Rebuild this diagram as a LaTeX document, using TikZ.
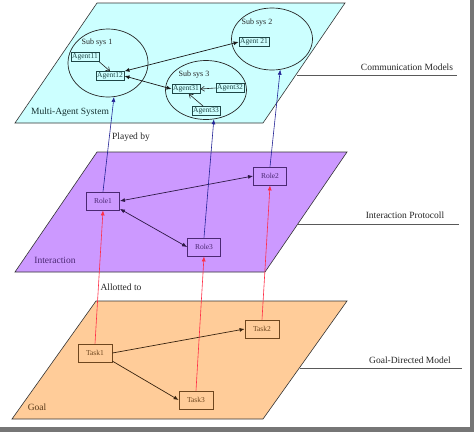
\documentclass[tikz,border=0pt]{standalone}
\usepackage{fontspec}
\setmainfont{Liberation Serif}
\usetikzlibrary{arrows.meta,shapes.geometric}
\definecolor{cyanp}{RGB}{204,255,255}
\definecolor{purp}{RGB}{204,153,255}
\definecolor{orap}{RGB}{255,204,153}
\definecolor{agentc}{RGB}{30,70,70}
\definecolor{rolec}{RGB}{75,40,115}
\definecolor{taskc}{RGB}{110,70,30}
\definecolor{navyl}{RGB}{35,35,150}
\definecolor{redl}{RGB}{255,45,70}
\definecolor{shadowc}{RGB}{118,118,118}
\begin{document}
\begin{tikzpicture}[x=1pt,y=-1pt,
  plane/.style={draw=black!80, line width=0.6pt},
  agent/.style={draw=agentc, text=agentc, line width=0.7pt, font=\fontsize{7.5}{8}\selectfont, inner xsep=1.2pt, inner ysep=1pt, minimum height=9pt},
  rolebox/.style={draw=rolec, text=rolec, line width=0.8pt, font=\fontsize{7.5}{8}\selectfont, minimum width=33pt, minimum height=18pt, inner sep=0pt},
  taskbox/.style={draw=taskc, text=taskc, line width=0.8pt, font=\fontsize{7.5}{8}\selectfont, minimum width=34pt, minimum height=18pt, inner sep=0pt},
  subsys/.style={draw=black!85, ellipse, line width=0.7pt, inner sep=0pt},
  sublabel/.style={font=\fontsize{8}{9}\selectfont, text=black!85, inner sep=0pt},
  planelabel/.style={font=\fontsize{9.5}{11}\selectfont, inner sep=0pt},
  sidelabel/.style={font=\fontsize{9.5}{11}\selectfont, text=black!85, inner sep=0pt},
  sideline/.style={draw=black!65, line width=0.8pt},
  biarrow/.style={line width=0.7pt, {Latex[length=5pt,width=4pt]}-{Latex[length=5pt,width=4pt]}},
  onearrow/.style={line width=0.7pt, -{Latex[length=5pt,width=4pt]}},
  openarrow/.style={line width=0.6pt, -{Straight Barb[length=3.5pt,width=5pt]}},
  bluearrow/.style={draw=navyl, line width=0.6pt, -{Latex[length=5pt,width=4pt]}},
  redarrow/.style={draw=redl, line width=0.6pt, -{Latex[length=5pt,width=4pt]}}
]
\useasboundingbox (0,0) rectangle (474,432);
\fill[white] (0,0) rectangle (474,432);
\fill[shadowc] (470,0) rectangle (474,432);
\fill[shadowc] (0,427) rectangle (474,432);

% planes
\path[plane, fill=cyanp] (97,3) -- (345,3) -- (263,123) -- (15,123) -- cycle;
\path[plane, fill=purp] (97,152) -- (347,152) -- (265,272) -- (15,272) -- cycle;
\path[plane, fill=orap] (96,301) -- (347,301) -- (263,419) -- (12,419) -- cycle;

% side labels
\coordinate (cmL) at (297,75); \coordinate (cmR) at (457,75);
\draw[sideline] (cmL) -- (cmR);
\node[sidelabel] (cmT) at (407,67) {Communication Models};
\coordinate (ipL) at (298,224); \coordinate (ipR) at (459,224);
\draw[sideline] (ipL) -- (ipR);
\node[sidelabel] (ipT) at (405,215) {Interaction Protocoll};
\coordinate (gdL) at (300,368); \coordinate (gdR) at (462,368);
\draw[sideline] (gdL) -- (gdR);
\node[sidelabel] (gdT) at (410,360) {Goal-Directed Model};

% plane labels
\node[planelabel, text=agentc!70!black] (mas) at (70,112) {Multi-Agent System};
\node[planelabel, text=rolec] (inter) at (55,260) {Interaction};
\node[planelabel, text=taskc!80!black] (goal) at (37,407) {Goal};

% sub systems
\node[subsys, minimum width=80pt, minimum height=68pt] (ss1) at (108,63) {};
\node[subsys, minimum width=81pt, minimum height=62pt] (ss2) at (272,39) {};
\node[subsys, minimum width=81pt, minimum height=59pt] (ss3) at (206,90) {};
\node[sublabel] (ss1l) at (97,43) {Sub sys 1};
\node[sublabel] (ss2l) at (257,23) {Sub sys 2};
\node[sublabel] (ss3l) at (194,75) {Sub sys 3};

% agents
\node[agent] (a11) at (85,57) {Agent11};
\node[agent] (a12) at (110,76) {Agent12};
\node[agent] (a21) at (254,42) {Agent 21};
\node[agent] (a31) at (186,89) {Agent31};
\node[agent] (a32) at (230,88) {Agent32};
\node[agent] (a33) at (206,111) {Agent33};

\draw[openarrow, draw=black!85] (a11.south east) -- (a12.north);
\draw[biarrow, draw=black!90] (a12.north east) -- (a21.west);
\draw[biarrow, draw=black!90] (a12.east) -- (a31.west);
\draw[openarrow, draw=black!85] (a32.west) -- (a31.east);
\draw[openarrow, draw=black!85] (a33.120) -- (a31.-60);

% roles
\node[rolebox] (r1) at (103,201) {Role1};
\node[rolebox] (r2) at (270,176) {Role2};
\node[rolebox] (r3) at (204,247) {Role3};
\draw[biarrow, draw=rolec!60!black] (r1.east) -- (r2.west);
\draw[biarrow, draw=rolec!60!black] (r1.-25) -- (r3.west);

% tasks
\node[taskbox] (t1) at (95,353) {Task1};
\node[taskbox] (t2) at (262,329) {Task2};
\node[taskbox] (t3) at (196,400) {Task3};
\draw[onearrow, draw=taskc!50!black] (t1.east) -- (t2.west);
\draw[onearrow, draw=taskc!50!black] (t1.-25) -- (t3.west);

% played by
\draw[bluearrow] (r1.north) -- (ss1.-80);
\draw[bluearrow] (r3.north) -- (ss3.-75);
\draw[bluearrow] (r2.north) -- (ss2.-75);
\node[sidelabel] (pb) at (131,137) {Played by};

% allotted to
\draw[redarrow] (t1.north) -- (r1.south);
\draw[redarrow] (t3.north) -- (r3.south);
\draw[redarrow] (t2.north) -- (r2.south);
\node[sidelabel] (at) at (121,287) {Allotted to};
\end{tikzpicture}
\end{document}
